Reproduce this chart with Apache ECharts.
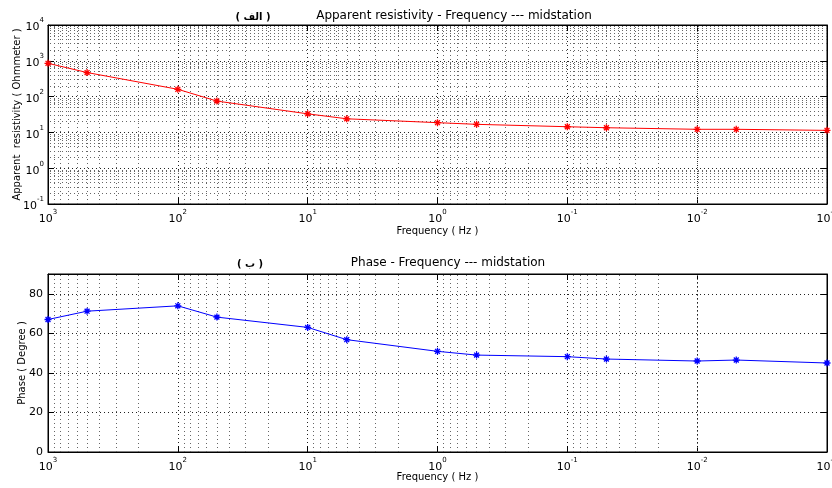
<!DOCTYPE html>
<html>
<head>
<meta charset="utf-8">
<script src="https://cdn.jsdelivr.net/npm/echarts@6/dist/echarts.min.js"></script>
<style>html,body{margin:0;padding:0;background:#fff;}#c{width:832px;height:488px;}</style>
</head>
<body>
<div id="c"></div>
<script>
const frequency = [1000, 500, 100, 50, 10, 5, 1, 0.5, 0.1, 0.05, 0.01, 0.005, 0.001];
const resistivity = [850, 470, 160, 75, 33, 24, 18.7, 16.8, 14.4, 13.5, 12.2, 12.2, 11.4];
const phase = [67, 71.2, 73.9, 68.2, 63, 56.8, 50.9, 49, 48.2, 47, 46, 46.5, 45];
const xDecades = [-3, -2, -1, 0, 1, 2];
const rhoDecades = [-1, 0, 1, 2, 3];
const titles = ['( الف )', 'Apparent resistivity - Frequency --- midstation', '( ب )', 'Phase - Frequency --- midstation'];

const FONT = 'DejaVu Sans';
function minors(decades) {
  const out = [];
  decades.forEach(k => { for (let d = 2; d <= 9; d++) out.push(d * Math.pow(10, k)); });
  return out;
}
const xMinor = minors(xDecades);
const yMinor = minors(rhoDecades);
const gridLine = { type: [1, 3], color: '#222', width: 1 };
const minorLine = { type: [1, 3], color: '#666', width: 1 };
function expLabel(v) {
  const e = Math.round(Math.log10(v));
  return '{b|10}{e|' + e + '}';
}
const rich = {
  b: { fontSize: 11, fontFamily: FONT, color: '#000', lineHeight: 16, verticalAlign: 'bottom' },
  e: { fontSize: 7, fontFamily: FONT, color: '#000', verticalAlign: 'top', lineHeight: 16, padding: [0, 0, 6, 0] }
};
function logX(grid, pos, show, gap) {
  return {
    type: 'log', logBase: 10, gridIndex: grid, position: pos, inverse: true,
    min: 0.001, max: 1000,
    axisLine: { show: true, onZero: false, lineStyle: { color: '#000', width: 1 } },
    axisTick: { show: true, inside: true, length: 6, lineStyle: { color: '#000' } },
    axisLabel: { show: show, formatter: expLabel, rich: rich, margin: 5 },
    splitLine: { show: show, lineStyle: gridLine },
    name: show ? 'Frequency ( Hz )' : '', nameLocation: 'middle', nameGap: gap || 20, nameMoveOverlap: false,
    nameTextStyle: { fontFamily: FONT, fontSize: 10, color: '#000' }
  };
}
const series = [];
function markLines(xs, ys) {
  const data = [];
  xs.forEach(v => data.push({ xAxis: v }));
  ys.forEach(v => data.push({ yAxis: v }));
  return { silent: true, symbol: ['none', 'none'], label: { show: false }, lineStyle: minorLine, animation: false, data: data, emphasis: { disabled: true } };
}
const star = 'path://M0,-4L0,4M-4,0L4,0M-2.8,-2.8L2.8,2.8M-2.8,2.8L2.8,-2.8';
series.push({
  type: 'line', xAxisIndex: 0, yAxisIndex: 0, z: 1,
  data: frequency.map((f, i) => [f, resistivity[i]]),
  symbol: 'none', lineStyle: { opacity: 0 },
  markLine: markLines(xMinor, yMinor)
});
series.push({
  type: 'line', xAxisIndex: 2, yAxisIndex: 2, z: 1,
  data: frequency.map((f, i) => [f, phase[i]]),
  symbol: 'none', lineStyle: { opacity: 0 },
  markLine: markLines(xMinor, [])
});
series.push({
  type: 'line', xAxisIndex: 0, yAxisIndex: 0, z: 5,
  data: frequency.map((f, i) => [f, resistivity[i]]),
  symbol: star, symbolSize: 7, showSymbol: true,
  lineStyle: { color: '#ff0000', width: 1 },
  itemStyle: { color: '#ff0000', borderColor: '#ff0000', borderWidth: 1.3 }
});
series.push({
  type: 'line', xAxisIndex: 2, yAxisIndex: 2, z: 5,
  data: frequency.map((f, i) => [f, phase[i]]),
  symbol: star, symbolSize: 7, showSymbol: true,
  lineStyle: { color: '#0000ff', width: 1 },
  itemStyle: { color: '#0000ff', borderColor: '#0000ff', borderWidth: 1.3 }
});

const option = {
  animation: false,
  backgroundColor: '#fff',
  title: [
    { text: titles[0], left: 248, top: 7, textAlign: 'center', textStyle: { fontFamily: FONT, fontSize: 10, fontWeight: 'bold', color: '#000' } },
    { text: titles[1], left: 449, top: 5, textAlign: 'center', textStyle: { fontFamily: FONT, fontSize: 12, fontWeight: 'normal', color: '#000' } },
    { text: titles[2], left: 245, top: 254, textAlign: 'center', textStyle: { fontFamily: FONT, fontSize: 10, fontWeight: 'bold', color: '#000' } },
    { text: titles[3], left: 443, top: 252, textAlign: 'center', textStyle: { fontFamily: FONT, fontSize: 12, fontWeight: 'normal', color: '#000' } }
  ],
  grid: [
    { left: 48, right: 5, top: 25, height: 179, show: true, borderColor: '#000', borderWidth: 1, containLabel: false, outerBoundsMode: 'none' },
    { left: 48, right: 5, top: 274, height: 178, show: true, borderColor: '#000', borderWidth: 1, containLabel: false, outerBoundsMode: 'none' }
  ],
  xAxis: [logX(0, 'bottom', true, 22), logX(0, 'top', false), logX(1, 'bottom', true, 20), logX(1, 'top', false)],
  yAxis: [
    {
      type: 'log', logBase: 10, gridIndex: 0, min: 0.1, max: 10000, position: 'left',
      axisLine: { show: true, onZero: false, lineStyle: { color: '#000' } },
      axisTick: { show: true, inside: true, length: 6, lineStyle: { color: '#000' } },
      axisLabel: { formatter: expLabel, rich: rich, margin: 4 },
      splitLine: { show: true, lineStyle: gridLine },
      name: 'Apparent  resistivity ( Ohmmeter )', nameLocation: 'middle', nameGap: 26, nameMoveOverlap: false,
      nameTextStyle: { fontFamily: FONT, fontSize: 10, color: '#000' }
    },
    {
      type: 'log', logBase: 10, gridIndex: 0, min: 0.1, max: 10000, position: 'right',
      axisLine: { show: true, onZero: false, lineStyle: { color: '#000' } },
      axisTick: { show: true, inside: true, length: 6, lineStyle: { color: '#000' } },
      axisLabel: { show: false }, splitLine: { show: false }
    },
    {
      type: 'value', gridIndex: 1, min: 0, max: 90, interval: 20, position: 'left',
      axisLine: { show: true, onZero: false, lineStyle: { color: '#000' } },
      axisTick: { show: true, inside: true, length: 6, lineStyle: { color: '#000' } },
      axisLabel: { fontFamily: FONT, fontSize: 11, color: '#000', margin: 5, showMaxLabel: false },
      splitLine: { show: true, lineStyle: gridLine },
      name: 'Phase ( Degree )', nameLocation: 'middle', nameGap: 21, nameMoveOverlap: false,
      nameTextStyle: { fontFamily: FONT, fontSize: 10, color: '#000' }
    },
    {
      type: 'value', gridIndex: 1, min: 0, max: 90, interval: 20, position: 'right',
      axisLine: { show: true, onZero: false, lineStyle: { color: '#000' } },
      axisTick: { show: true, inside: true, length: 6, lineStyle: { color: '#000' } },
      axisLabel: { show: false }, splitLine: { show: false }
    }
  ],
  series: series
};
const chart = echarts.init(document.getElementById('c'), null, { renderer: 'canvas' });
chart.setOption(option);
</script>
</body>
</html>
